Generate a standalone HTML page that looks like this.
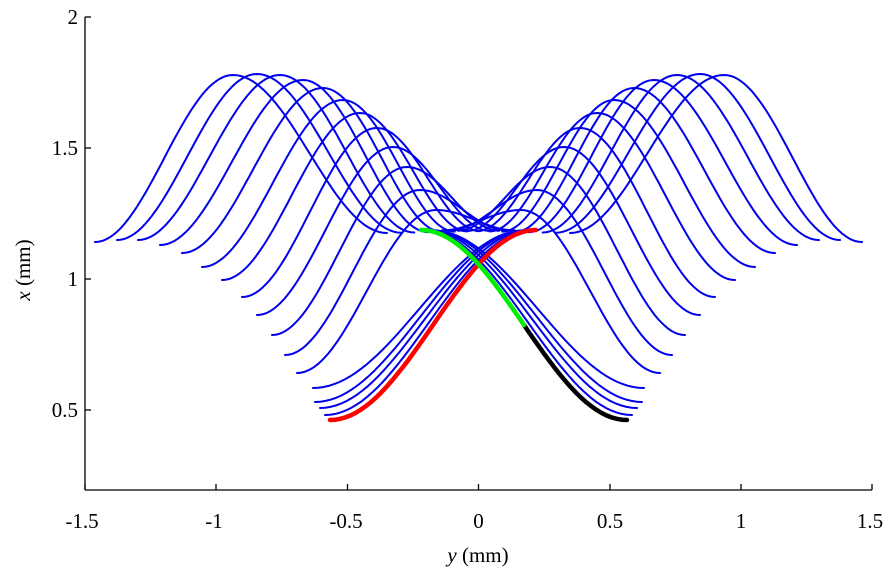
<!DOCTYPE html>
<html><head><meta charset="utf-8"><style>
body{margin:0;background:#fff}
svg{display:block}
text{font-family:"Liberation Serif",serif;font-size:21px;fill:#000}
</style></head><body>
<svg id="s" width="896" height="585" xmlns="http://www.w3.org/2000/svg">
<g id="curves"></g>
<g stroke="#000" stroke-width="1.3" fill="none">
<line x1="85" y1="17" x2="85" y2="490"/>
<line x1="85" y1="490" x2="872" y2="490"/>
<line x1="85" y1="17" x2="91" y2="17"/>
<line x1="85" y1="148" x2="91" y2="148"/>
<line x1="85" y1="279" x2="91" y2="279"/>
<line x1="85" y1="410" x2="91" y2="410"/>
<line x1="85" y1="490" x2="85" y2="484"/>
<line x1="216" y1="490" x2="216" y2="484"/>
<line x1="347.5" y1="490" x2="347.5" y2="484"/>
<line x1="478.5" y1="490" x2="478.5" y2="484"/>
<line x1="610" y1="490" x2="610" y2="484"/>
<line x1="741" y1="490" x2="741" y2="484"/>
<line x1="872" y1="490" x2="872" y2="484"/>
</g>
<g text-anchor="end">
<text x="78" y="24">2</text>
<text x="78" y="155">1.5</text>
<text x="78" y="286">1</text>
<text x="78" y="417">0.5</text>
</g>
<g text-anchor="middle">
<text x="82" y="528">-1.5</text>
<text x="214" y="528">-1</text>
<text x="346" y="528">-0.5</text>
<text x="478.5" y="528">0</text>
<text x="610" y="528">0.5</text>
<text x="741" y="528">1</text>
<text x="870" y="528">1.5</text>
<text x="478" y="562" font-size="23"><tspan font-style="italic">y</tspan> (mm)</text>
<text transform="translate(30,270) rotate(-90)" font-size="23"><tspan font-style="italic">x</tspan> (mm)</text>
</g>
</svg>
<script>
var L=[[95,242],[117,240],[138,240],[160,245],[182,253],[202,267],[222,280],[242,297],[257,315],[272,335],[285,355],[297,373],[313,388],[315,402],[320,408],[325,415],[330,420]];
var P=[[233,75],[257,74],[280,75],[303,80],[323,88],[343,100],[360,113],[377,128],[393,147],[407,167],[420,190],[436,210]];
var g=document.getElementById('curves');var NS="http://www.w3.org/2000/svg";
function seg(a,b,out,mir){for(var k=0;k<=40;k++){var u=k/40;var x=a[0]+(b[0]-a[0])*u;var y=a[1]+(b[1]-a[1])*(1-Math.cos(Math.PI*u))/2;if(mir)x=957-x;out.push([x,y]);}}
function curve(i,mir){var s=L[i];var f=(s[0]-95)/(330-95);var E=[387+f*(536-387),233-f*3];var o=[];
if(i<P.length){seg(s,P[i],o,mir);seg(P[i],E,o,mir);}else seg(s,E,o,mir);return o;}
function pl(p,c,w){var e=document.createElementNS(NS,'polyline');e.setAttribute('points',p.map(function(q){return q[0].toFixed(1)+","+q[1].toFixed(1)}).join(" "));e.setAttribute('fill','none');e.setAttribute('stroke',c);e.setAttribute('stroke-width',w);e.setAttribute('stroke-linecap','round');g.appendChild(e);}
for(var i=0;i<L.length;i++){pl(curve(i,0),'#0000ee',2);pl(curve(i,1),'#0000ee',2);}
var n=L.length-1;pl(curve(n,0),'#ff0000',4.5);
var m=curve(n,1);var bl=m.filter(function(q){return q[0]>=523;}),gr=m.filter(function(q){return q[0]<=524;});
pl(bl,'#000000',4.5);pl(gr,'#00ee00',4.5);
</script>
</body></html>
